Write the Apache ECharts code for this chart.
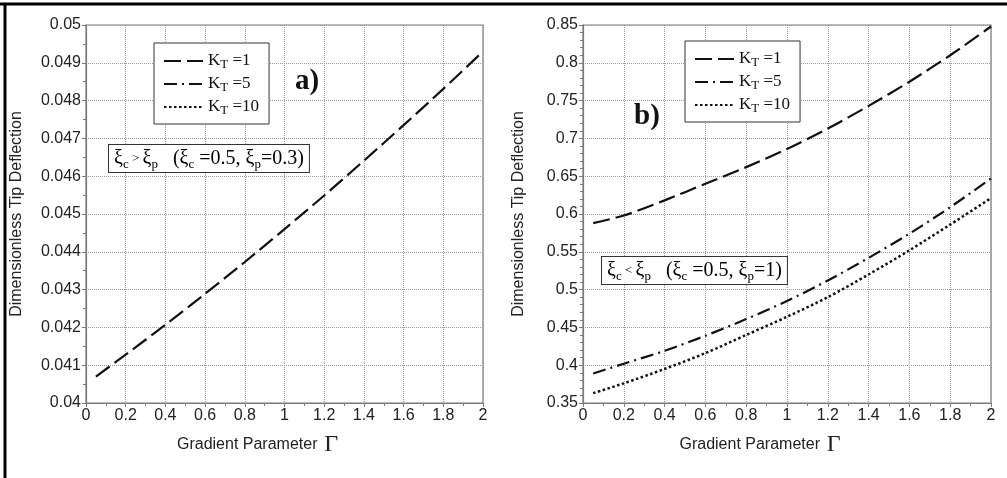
<!DOCTYPE html>
<html>
<head>
<meta charset="utf-8">
<script src="https://cdn.jsdelivr.net/npm/echarts@6/dist/echarts.min.js"></script>
<style>
  html, body { margin: 0; padding: 0; background: #fff; }
  #chart { width: 1007px; height: 478px; }
</style>
</head>
<body>
<div id="chart"></div>
<script>
// Gradient parameter values (x)
const gamma = [0.05, 0.2, 0.4, 0.6, 0.8, 1.0, 1.2, 1.4, 1.6, 1.8, 2.0];

// panel a) xi_c > xi_p, K_T = 1
const defA_kt1 = [0.04070, 0.04128, 0.04207, 0.04289, 0.04373, 0.04460, 0.04549, 0.04641, 0.04735, 0.04831, 0.04930];

// panel b) xi_c < xi_p
const defB_kt1 = [0.588, 0.598, 0.618, 0.640, 0.662, 0.686, 0.713, 0.743, 0.775, 0.810, 0.848];
const defB_kt5 = [0.389, 0.402, 0.419, 0.439, 0.461, 0.485, 0.512, 0.542, 0.574, 0.609, 0.647];
const defB_kt10 = [0.363, 0.376, 0.395, 0.416, 0.440, 0.464, 0.490, 0.520, 0.552, 0.586, 0.621];

const seriesNames = ['KT=1', 'KT=5', 'KT=10'];

const pairs = (xs, ys) => xs.map((x, i) => [x, ys[i]]);

const chart = echarts.init(document.getElementById('chart'));

const sans = 'Liberation Sans, Arial, sans-serif';
const serif = 'Liberation Serif, Times New Roman, serif';
const gridGray = '#9a9a9a';
const axisGray = '#7a7a7a';

const dashStyles = {
  'KT=1': [17, 6],
  'KT=5': [13, 5, 2, 5],
  'KT=10': [2.5, 2.5]
};

const makeX = (gridIndex) => ({
  type: 'value',
  gridIndex: gridIndex,
  min: 0,
  max: 2,
  interval: 0.2,
  name: '{t|Gradient Parameter}  {g|Γ}',
  nameLocation: 'middle',
  nameGap: 30,
  nameTextStyle: {
    padding: [0, 54, 0, 0],
    rich: {
      t: { fontFamily: sans, fontSize: 16, color: '#222' },
      g: { fontFamily: serif, fontSize: 24, color: '#222' }
    }
  },
  axisLine: { lineStyle: { color: axisGray, width: 1.2 } },
  axisTick: { length: 4, lineStyle: { color: axisGray } },
  minorTick: { show: true, splitNumber: 2, length: 3, lineStyle: { color: axisGray } },
  axisLabel: { fontFamily: sans, fontSize: 16, color: '#222', margin: 5 },
  splitLine: { show: true, lineStyle: { color: gridGray, type: [1, 1], width: 1 } }
});

const makeY = (gridIndex, min, max, interval, minorSplit, gap) => ({
  type: 'value',
  gridIndex: gridIndex,
  min: min,
  max: max,
  interval: interval,
  name: 'Dimensionless Tip Deflection',
  nameLocation: 'middle',
  nameGap: gap,
  nameTextStyle: { fontFamily: sans, fontSize: 16, color: '#222' },
  axisLine: { show: true, lineStyle: { color: axisGray, width: 1.2 } },
  axisTick: { show: true, length: 4, lineStyle: { color: axisGray } },
  minorTick: { show: true, splitNumber: minorSplit, length: 3, lineStyle: { color: axisGray } },
  axisLabel: { fontFamily: sans, fontSize: 16, color: '#222', margin: 5 },
  splitLine: { show: true, lineStyle: { color: gridGray, type: [1, 1], width: 1 } }
});

const lineSeries = (name, xi, data) => ({
  name: name,
  type: 'line',
  xAxisIndex: xi,
  yAxisIndex: xi,
  data: data,
  smooth: 0.3,
  symbol: 'none',
  lineStyle: { color: '#111', width: name === 'KT=10' ? 2.5 : 2.2, type: dashStyles[name] },
  itemStyle: { color: '#111' },
  animation: false
});

const legendRich = {
  k: { fontFamily: serif, fontSize: 17, color: '#111', lineHeight: 20 },
  s: { fontFamily: serif, fontSize: 13, color: '#111', lineHeight: 12, verticalAlign: 'bottom', padding: [6, 0, 0, 0] }
};
const legendFormatter = (name) => '{k|K}{s|T}{k| =' + name.split('=')[1] + '}';

const makeLegend = (left, top) => ({
  data: seriesNames,
  orient: 'vertical',
  left: left,
  top: top,
  padding: [9, 10, 7, 9],
  itemWidth: 39,
  itemHeight: 14,
  itemGap: 4,
  itemTextGap: 7,
  backgroundColor: '#fff',
  borderColor: '#333',
  borderWidth: 1,
  selectedMode: false,
  itemStyle: { color: 'rgba(0,0,0,0)', borderWidth: 0, opacity: 0 },
  formatter: legendFormatter,
  textStyle: { rich: legendRich }
});

const sub = { fontFamily: serif, fontSize: 13, color: '#111', verticalAlign: 'bottom', lineHeight: 14, padding: [5, 0, 0, 0] };
const big = { fontFamily: serif, fontSize: 20, color: '#111', lineHeight: 24 };
const small = { fontFamily: serif, fontSize: 13, color: '#111', lineHeight: 24 };

const boxText = (left, top, text) => ({
  type: 'text',
  left: left,
  top: top,
  z: 100,
  style: {
    text: text,
    backgroundColor: '#fff',
    borderColor: '#333',
    borderWidth: 1,
    padding: [2, 5, 1, 5],
    rich: { b: big, s: sub, m: small }
  }
});

const option = {
  backgroundColor: '#fff',
  animation: false,
  grid: [
    { left: 86, right: 524, top: 25, bottom: 75, show: true, borderColor: axisGray, borderWidth: 1.2 },
    { left: 583, right: 16, top: 25, bottom: 75, show: true, borderColor: axisGray, borderWidth: 1.2 }
  ],
  xAxis: [makeX(0), makeX(1)],
  yAxis: [makeY(0, 0.04, 0.05, 0.001, 2, 61), makeY(1, 0.35, 0.85, 0.05, 5, 56)],
  legend: [makeLegend(154, 43), makeLegend(685, 41)],
  series: [
    lineSeries('KT=1', 0, pairs(gamma, defA_kt1)),
    lineSeries('KT=1', 1, pairs(gamma, defB_kt1)),
    lineSeries('KT=5', 1, pairs(gamma, defB_kt5)),
    lineSeries('KT=10', 1, pairs(gamma, defB_kt10))
  ],
  graphic: [
    // outer figure frame (top and left edges)
    { type: 'line', shape: { x1: 0, y1: 4, x2: 1007, y2: 4 }, style: { stroke: '#000', lineWidth: 3 } },
    { type: 'line', shape: { x1: 5, y1: 3, x2: 5, y2: 478 }, style: { stroke: '#000', lineWidth: 3 } },
    { type: 'text', left: 295, top: 67, z: 100,
      style: { text: 'a)', fontFamily: serif, fontSize: 29, fontWeight: 'bold', fill: '#111' } },
    { type: 'text', left: 634, top: 102, z: 100,
      style: { text: 'b)', fontFamily: serif, fontSize: 29, fontWeight: 'bold', fill: '#111' } },
    boxText(108, 144, '{b|ξ}{s|c}{m| > }{b|ξ}{s|p}{b|   (ξ}{s|c}{b| =0.5, ξ}{s|p}{b|=0.3)}'),
    boxText(601, 256, '{b|ξ}{s|c}{m| < }{b|ξ}{s|p}{b|   (ξ}{s|c}{b| =0.5, ξ}{s|p}{b|=1)}')
  ]
};

chart.setOption(option);
</script>
</body>
</html>
